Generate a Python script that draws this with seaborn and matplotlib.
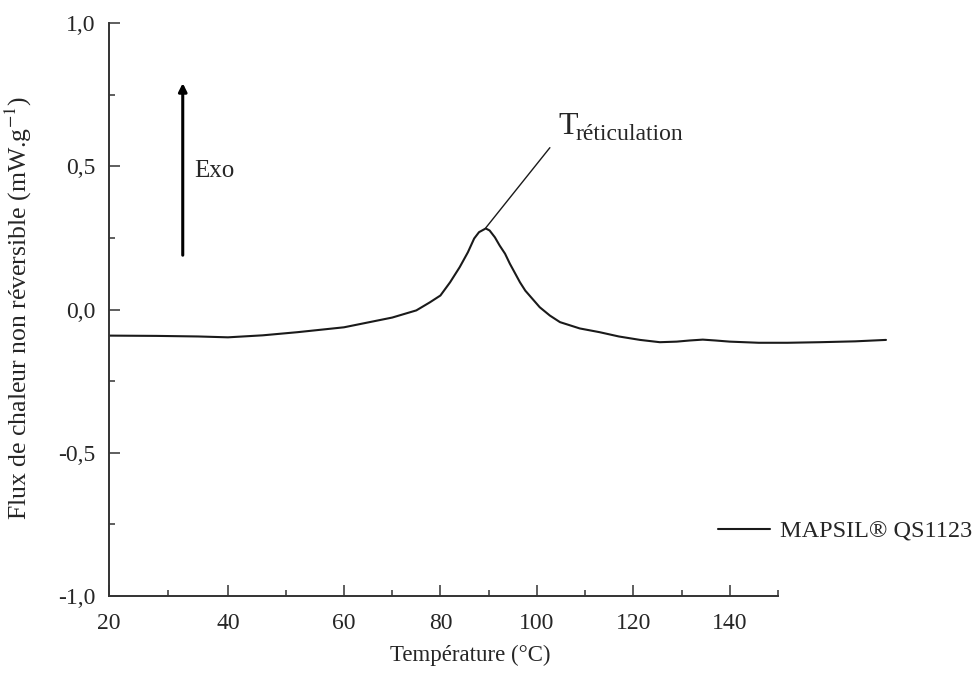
import matplotlib
matplotlib.use('Agg')
import matplotlib.pyplot as plt
import matplotlib.ticker as mticker
import numpy as np
import pandas as pd
import seaborn as sns

# courbe (température en °C, flux en mW/g)
temperature = [20, 28, 35, 40, 46, 52, 60, 65, 70, 75, 77.8, 80, 82, 84, 85.7, 87, 88,
               89.4, 90.2, 91.3, 92.3, 93.4, 94.4, 95.5, 96.5, 97.6, 100.6, 102.7, 104.8,
               108.9, 113, 117, 121.4, 125.5, 129, 131.7, 134.4, 137, 140, 146, 152,
               158.7, 166, 172.4]
flux = [-0.091, -0.092, -0.094, -0.097, -0.090, -0.079, -0.062, -0.045, -0.028, -0.003,
        0.025, 0.049, 0.095, 0.148, 0.200, 0.248, 0.270, 0.283, 0.276, 0.252, 0.223,
        0.195, 0.160, 0.126, 0.095, 0.066, 0.008, -0.021, -0.044, -0.066, -0.079,
        -0.094, -0.106, -0.114, -0.112, -0.108, -0.105, -0.108, -0.112, -0.116,
        -0.116, -0.114, -0.111, -0.106]
serie = 'MAPSIL® QS1123'

x_major = [20, 40, 60, 80, 100, 120, 140]
x_minor = [30, 50, 70, 90, 110, 130, 150]
y_major = [-1.0, -0.5, 0.0, 0.5, 1.0]
y_minor = [-0.75, -0.25, 0.25, 0.75]

df = pd.DataFrame({'T': temperature, 'flux': flux, 'serie': serie})

sns.set_style('ticks')
plt.rcParams['font.family'] = ['Liberation Serif', 'DejaVu Serif']
plt.rcParams['mathtext.fontset'] = 'stix'

# l'axe des x de la figure d'origine n'est pas régulier entre 20 et 60
kv = [-1000, 20, 40, 60, 1000]
kp = [-6069, 0, 119, 235, 4767.7]


def fwd(x):
    return np.interp(x, kv, kp)


def inv(p):
    return np.interp(p, kp, kv)


fig = plt.figure(figsize=(9.79, 6.76), dpi=100)
ax = fig.add_axes([0.1113, 0.1183, 0.8065, 0.8476])

sns.lineplot(data=df, x='T', y='flux', hue='serie', palette=['#1a1a1a'],
             linewidth=1.5, ax=ax, sort=False)
ax.set_xscale('function', functions=(fwd, inv))
ax.set_xlim(20, 175)
ax.set_ylim(-1.0, 1.0)

ax.xaxis.set_major_locator(mticker.FixedLocator(x_major))
ax.xaxis.set_minor_locator(mticker.FixedLocator(x_minor))
ax.xaxis.set_major_formatter(mticker.FixedFormatter([str(v) for v in x_major]))
ax.xaxis.set_minor_formatter(mticker.NullFormatter())
ax.yaxis.set_major_locator(mticker.FixedLocator(y_major))
ax.yaxis.set_minor_locator(mticker.FixedLocator(y_minor))
ax.yaxis.set_major_formatter(mticker.FixedFormatter([f'{v:.1f}'.replace('.', ',') for v in y_major]))

ax.tick_params(which='major', direction='in', length=8, width=1.1, color='#333333',
               labelsize=17, pad=10)
ax.tick_params(axis='x', which='major', pad=12)
ax.tick_params(which='minor', direction='in', length=4, width=1.1, color='#333333')

ax.spines['right'].set_visible(False)
ax.spines['top'].set_visible(False)
ax.spines['bottom'].set_bounds(20, 150)
for s in ['left', 'bottom']:
    ax.spines[s].set_linewidth(1.4)
    ax.spines[s].set_color('#333333')

ax.set_xlabel('Température (°C)', fontsize=16.5)
ax.set_ylabel('Flux de chaleur non réversible (mW.g$^{-1}$)', fontsize=18.5)
ax.xaxis.set_label_coords(0.458, -0.085)
ax.yaxis.set_label_coords(-0.095, 0.503)

# flèche exo
ax.annotate('', xy=(32.4, 0.80), xytext=(32.4, 0.18),
            arrowprops=dict(arrowstyle='-|>', lw=2.2, color='black', mutation_scale=12))
ax.text(34.4, 0.485, 'Exo', fontsize=18, ha='left', va='center')

# repère du pic
ax.plot([89.4, 102.7], [0.285, 0.565], color='#1a1a1a', lw=1.0)
ax.text(104.4, 0.614, 'T', fontsize=23, ha='left', va='baseline')
ax.text(108.0, 0.593, 'réticulation', fontsize=17, ha='left', va='baseline')

ax.legend(loc='center left', bbox_to_anchor=(0.771, 0.112), frameon=False,
          fontsize=17.5, handlelength=2.15, handletextpad=0.4, borderpad=0, borderaxespad=0)

plt.savefig('out.png', dpi=100)
